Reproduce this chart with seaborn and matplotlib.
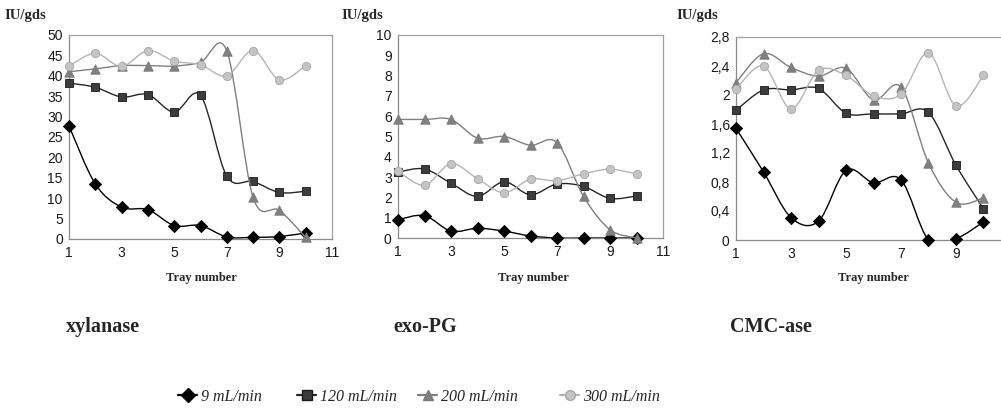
import numpy as np
import pandas as pd
import matplotlib
matplotlib.use("Agg")
import matplotlib.pyplot as plt
import seaborn as sns
from matplotlib.path import Path
from matplotlib.patches import PathPatch
from matplotlib.lines import Line2D
from matplotlib.ticker import FixedLocator, FixedFormatter

# ---------------- data ----------------
trays = [1, 2, 3, 4, 5, 6, 7, 8, 9, 10]
flow_rates = ["9 mL/min", "120 mL/min", "200 mL/min", "300 mL/min"]
enzymes = ["xylanase", "exo-PG", "CMC-ase"]

xylanase_9 = [27.7, 13.5, 7.8, 7.2, 3.3, 3.3, 0.5, 0.4, 0.6, 1.5]
xylanase_120 = [38.2, 37.2, 34.8, 35.4, 31.1, 35.2, 15.4, 14.1, 11.4, 11.7]
xylanase_200 = [41.0, 41.7, 42.5, 42.5, 42.4, 43.3, 46.1, 10.2, 7.0, 0.4]
xylanase_300 = [42.4, 45.5, 42.3, 46.2, 43.6, 42.7, 40.0, 46.2, 39.0, 42.5]

exopg_9 = [0.9, 1.1, 0.34, 0.48, 0.34, 0.1, 0.0, 0.0, 0.0, 0.0]
exopg_120 = [3.25, 3.4, 2.7, 2.05, 2.77, 2.13, 2.66, 2.54, 1.95, 2.07]
exopg_200 = [5.84, 5.84, 5.84, 4.92, 5.0, 4.57, 4.7, 2.05, 0.41, 0.0]
exopg_300 = [3.3, 2.6, 3.66, 2.92, 2.23, 2.89, 2.82, 3.16, 3.39, 3.15]

cmcase_9 = [1.54, 0.94, 0.31, 0.26, 0.96, 0.79, 0.83, 0.0, 0.02, 0.25]
cmcase_120 = [1.79, 2.07, 2.07, 2.09, 1.75, 1.74, 1.74, 1.76, 1.03, 0.43]
cmcase_200 = [2.17, 2.57, 2.38, 2.26, 2.37, 1.93, 2.11, 1.06, 0.52, 0.58]
cmcase_300 = [2.08, 2.40, 1.81, 2.34, 2.27, 1.99, 2.01, 2.58, 1.85, 2.27]

x_ticks = [1, 3, 5, 7, 9, 11]
xylanase_yticks = [0, 5, 10, 15, 20, 25, 30, 35, 40, 45, 50]
exopg_yticks = [0, 1, 2, 3, 4, 5, 6, 7, 8, 9, 10]
cmcase_yticks = [0, 0.4, 0.8, 1.2, 1.6, 2.0, 2.4, 2.8]
cmcase_yticklabels = ["0", "0,4", "0,8", "1,2", "1,6", "2", "2,4", "2,8"]

y_unit = "IU/gds"
x_label = "Tray number"

# ---------------- style ----------------
sns.set_style("white")
plt.rcParams["font.family"] = ["Liberation Sans", "DejaVu Sans"]

W, H = 1001, 408
fig = plt.figure(figsize=(W / 100, H / 100), dpi=100)

line_colors = ["#000000", "#262626", "#7f7f7f", "#b4b4b4"]
marker_face = ["#000000", "#3c3c3c", "#808080", "#c4c4c4"]
marker_edge = ["#000000", "#1a1a1a", "#7a7a7a", "#a8a8a8"]
markers = ["D", "s", "^", "o"]
msizes = [6.2, 5.8, 6.8, 6.0]


def smooth_path(x, y):
    pts = np.column_stack([x, y]).astype(float)
    n = len(pts)
    verts = [pts[0]]
    codes = [Path.MOVETO]
    for i in range(n - 1):
        p0 = pts[i - 1] if i > 0 else pts[i]
        p1 = pts[i]
        p2 = pts[i + 1]
        p3 = pts[i + 2] if i + 2 < n else pts[i + 1]
        c1 = p1 + (p2 - p0) / 6.0
        c2 = p2 - (p3 - p1) / 6.0
        verts += [c1, c2, p2]
        codes += [Path.CURVE4] * 3
    return Path(verts, codes)


def px_rect(left, right, top, bottom):
    return [left / W, 1 - bottom / H, (right - left) / W, (bottom - top) / H]


panels = [
    dict(name=enzymes[0], series=[xylanase_9, xylanase_120, xylanase_200, xylanase_300],
         rect=px_rect(69, 332, 35, 239), ylim=(0, 50), yticks=xylanase_yticks,
         yticklabels=[str(v) for v in xylanase_yticks], unit_x=25, title_x=66,
         xlab_x=201),
    dict(name=enzymes[1], series=[exopg_9, exopg_120, exopg_200, exopg_300],
         rect=px_rect(398, 663, 35, 238), ylim=(0, 10), yticks=exopg_yticks,
         yticklabels=[str(v) for v in exopg_yticks], unit_x=362, title_x=393,
         xlab_x=533),
    dict(name=enzymes[2], series=[cmcase_9, cmcase_120, cmcase_200, cmcase_300],
         rect=px_rect(736, 1011, 37, 240), ylim=(0, 2.8), yticks=cmcase_yticks,
         yticklabels=cmcase_yticklabels, unit_x=697, title_x=730,
         xlab_x=873),
]

for p in panels:
    ax = fig.add_axes(p["rect"])
    for k, (vals, flow) in enumerate(zip(p["series"], flow_rates)):
        df = pd.DataFrame({"tray": trays, "value": vals})
        patch = PathPatch(smooth_path(df["tray"], df["value"]), fill=False,
                          edgecolor=line_colors[k], lw=1.0, zorder=2 + 2 * k,
                          capstyle="round", joinstyle="round")
        ax.add_patch(patch)
        sns.scatterplot(data=df, x="tray", y="value", ax=ax, marker=markers[k],
                        s=msizes[k] ** 2, color=marker_face[k],
                        edgecolor=marker_edge[k], linewidth=0.6,
                        zorder=3 + 2 * k, legend=False, clip_on=False)
    ax.set_xlim(1, 11)
    ax.set_ylim(*p["ylim"])
    ax.xaxis.set_major_locator(FixedLocator(x_ticks))
    ax.xaxis.set_major_formatter(FixedFormatter([str(v) for v in x_ticks]))
    ax.yaxis.set_major_locator(FixedLocator(p["yticks"]))
    ax.yaxis.set_major_formatter(FixedFormatter(p["yticklabels"]))
    ax.set_xlabel("")
    ax.set_ylabel("")
    ax.tick_params(axis="both", length=0, labelsize=10, labelcolor="#1a1a1a")
    ax.tick_params(axis="y", pad=4.5)
    ax.tick_params(axis="x", pad=5.0)
    for side in ["left", "bottom"]:
        ax.spines[side].set_color("#8a8a8a")
        ax.spines[side].set_linewidth(0.9)
    for side in ["top", "right"]:
        ax.spines[side].set_color("#a0a0a0")
        ax.spines[side].set_linewidth(0.9)
    ax.set_facecolor("white")
    ax.grid(False)

    fig.text(p["unit_x"] / W, 1 - 16 / H, y_unit, ha="center", va="center",
             family="Liberation Serif", weight="bold", fontsize=10.5)
    fig.text(p["xlab_x"] / W, 1 - 278 / H, x_label,
             ha="center", va="center", family="Liberation Serif",
             weight="bold", fontsize=9)
    fig.text(p["title_x"] / W, 1 - 327 / H, p["name"], ha="left", va="center",
             family="Liberation Serif", weight="bold", fontsize=14.5)

# ---------------- legend ----------------
leg_x = [178, 297, 418, 560]
for k, flow in enumerate(flow_rates):
    h = Line2D([], [], color=line_colors[k], lw=1.6, marker=markers[k],
               markersize=msizes[k] + 1, markerfacecolor=marker_face[k],
               markeredgecolor=marker_edge[k])
    fig.legend(handles=[h], labels=[flow], loc="center left",
               bbox_to_anchor=(leg_x[k] / W, 1 - 397 / H), frameon=False,
               borderpad=0, borderaxespad=0, handlelength=1.2,
               handletextpad=0.25,
               prop=dict(family="Liberation Serif", style="italic", size=11.5))

fig.savefig("out.png", dpi=100, facecolor="white")
